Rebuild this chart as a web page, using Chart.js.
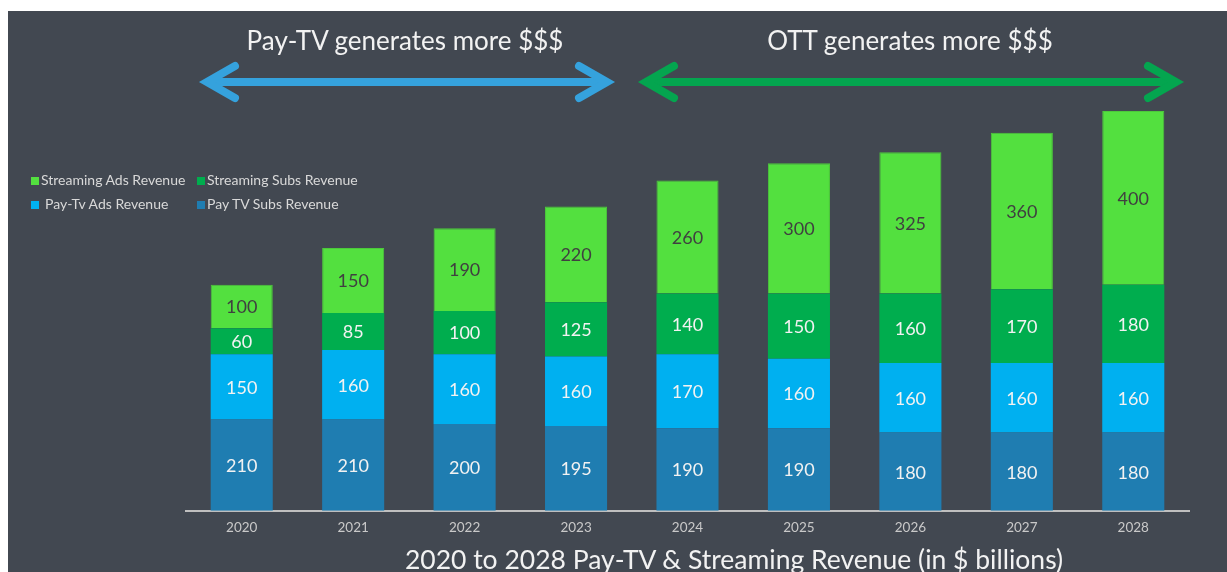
<!DOCTYPE html>
<html>
<head>
<meta charset="utf-8">
<script src="https://cdn.jsdelivr.net/npm/chart.js@4.4.1/dist/chart.umd.min.js"></script>
<style>
  body { margin: 0; background: #ffffff; width: 1227px; height: 572px; overflow: hidden; }
  #frame { position: absolute; left: 8px; top: 11px; width: 1219px; height: 561px; background: #424851; overflow: hidden; }
  #chart { position: absolute; left: 0; top: 0; }
  .titulo { position: absolute; color: #f2f2f2; font-family: Lato, "Open Sans", sans-serif; font-size: 26px; white-space: nowrap; transform: translateX(-50%); line-height: 1; }
  #legenda { position: absolute; left: 23px; top: 161px; font-family: Lato, sans-serif; font-size: 14px; color: #d9d9d9; }
  .item { position: absolute; white-space: nowrap; line-height: 16px; }
  .item i { display: inline-block; width: 8px; height: 8px; margin-right: 3px; vertical-align: 0px; }
</style>
</head>
<body>
<div id="frame">
  <canvas id="chart" width="1219" height="561"></canvas>
  <div class="titulo" style="left:397px; top:16px;">Pay-TV generates more $$$</div>
  <div class="titulo" style="left:902px; top:16px;">OTT generates more $$$</div>
  <div class="titulo" style="left:726px; top:535px; font-size:26.5px;">2020 to 2028 Pay-TV &amp; Streaming Revenue (in $ billions)</div>
  <div id="legenda"></div>
</div>
<script>
// ========================= DADOS =========================
const anos = ['2020', '2021', '2022', '2023', '2024', '2025', '2026', '2027', '2028'];
const payTvSubs = [210, 210, 200, 195, 190, 190, 180, 180, 180];
const payTvAds = [150, 160, 160, 160, 170, 160, 160, 160, 160];
const streamingSubs = [60, 85, 100, 125, 140, 150, 160, 170, 180];
const streamingAds = [100, 150, 190, 220, 260, 300, 325, 360, 400];

const nomes = ['Pay TV Subs Revenue', 'Pay-Tv Ads Revenue', 'Streaming Subs Revenue', 'Streaming Ads Revenue'];
const cores = ['#1f7db1', '#00b0f0', '#00ad4e', '#53e03f'];
const coresTexto = ['#f2f2f2', '#f2f2f2', '#f2f2f2', '#404040'];

// ========================= LEGENDA =========================
function montarLegenda() {
    const el = document.getElementById('legenda');
    // ordem e posição igual ao slide original
    const itens = [
        { i: 3, x: 0, y: 0 },
        { i: 2, x: 166, y: 0 },
        { i: 1, x: 0, y: 24, gap: 4 },
        { i: 0, x: 166, y: 24 }
    ];
    itens.forEach(it => {
        const d = document.createElement('div');
        d.className = 'item';
        d.style.left = it.x + 'px';
        d.style.top = it.y + 'px';
        d.innerHTML = '<i style="background:' + cores[it.i] + ';margin-right:' + (2 + (it.gap || 0)) + 'px"></i>' + nomes[it.i];
        el.appendChild(d);
    });
}

// ========================= PLUGINS =========================
const rotulos = {
    id: 'rotulos',
    afterDatasetsDraw(chart) {
        const ctx = chart.ctx;
        ctx.save();
        ctx.font = '18px Lato, sans-serif';
        ctx.textAlign = 'center';
        ctx.textBaseline = 'middle';
        chart.data.datasets.forEach((ds, i) => {
            const meta = chart.getDatasetMeta(i);
            meta.data.forEach((bar, j) => {
                const p = bar.getProps(['x', 'y', 'base'], true);
                ctx.fillStyle = coresTexto[i];
                ctx.fillText(ds.data[j], p.x, (p.y + p.base) / 2 + 1);
            });
        });
        ctx.restore();
    }
};

function seta(ctx, x1, x2, y, cor) {
    ctx.save();
    ctx.strokeStyle = cor;
    ctx.lineWidth = 8;
    ctx.lineCap = 'butt';
    ctx.beginPath();
    ctx.moveTo(x1 + 4, y);
    ctx.lineTo(x2 - 4, y);
    ctx.stroke();
    ctx.lineCap = 'round';
    ctx.lineJoin = 'miter';
    ctx.beginPath();
    ctx.moveTo(x1 + 32, y - 16);
    ctx.lineTo(x1 + 4, y);
    ctx.lineTo(x1 + 32, y + 16);
    ctx.moveTo(x2 - 32, y - 16);
    ctx.lineTo(x2 - 4, y);
    ctx.lineTo(x2 - 32, y + 16);
    ctx.stroke();
    ctx.restore();
}

const setas = {
    id: 'setas',
    afterDraw(chart) {
        seta(chart.ctx, 195, 603, 71, '#35a2dd');
        seta(chart.ctx, 634, 1172, 71, '#04a54f');
    }
};

// ========================= GRÁFICO =========================
function inicializarGrafico() {
    const ctx = document.getElementById('chart');
    const series = [payTvSubs, payTvAds, streamingSubs, streamingAds];
    const totais = anos.map((a, j) => series.reduce((s, d) => s + d[j], 0));

    new Chart(ctx, {
        type: 'bar',
        data: {
            labels: anos,
            datasets: series.map((d, i) => ({
                label: nomes[i],
                data: d,
                backgroundColor: cores[i],
                borderColor: i === 3 ? '#4cc93b' : cores[i],
                borderWidth: i === 3 ? 1 : 0,
                barPercentage: 0.557,
                categoryPercentage: 1
            }))
        },
        options: {
            responsive: false,
            animation: false,
            layout: { padding: { left: 178, right: 38, top: 100, bottom: 27 } },
            plugins: {
                legend: { display: false },
                tooltip: { enabled: false }
            },
            scales: {
                x: {
                    stacked: true,
                    grid: { display: false, drawTicks: false },
                    border: { display: true, color: '#bfbfbf', width: 2 },
                    ticks: {
                        color: '#c9c9c9',
                        padding: 9,
                        font: { family: 'Lato, sans-serif', size: 13.5 }
                    }
                },
                y: {
                    stacked: true,
                    display: false,
                    min: 0,
                    max: Math.max(...totais)
                }
            }
        },
        plugins: [rotulos, setas]
    });
}

document.addEventListener('DOMContentLoaded', function() {
    montarLegenda();
    inicializarGrafico();
});
</script>
</body>
</html>
